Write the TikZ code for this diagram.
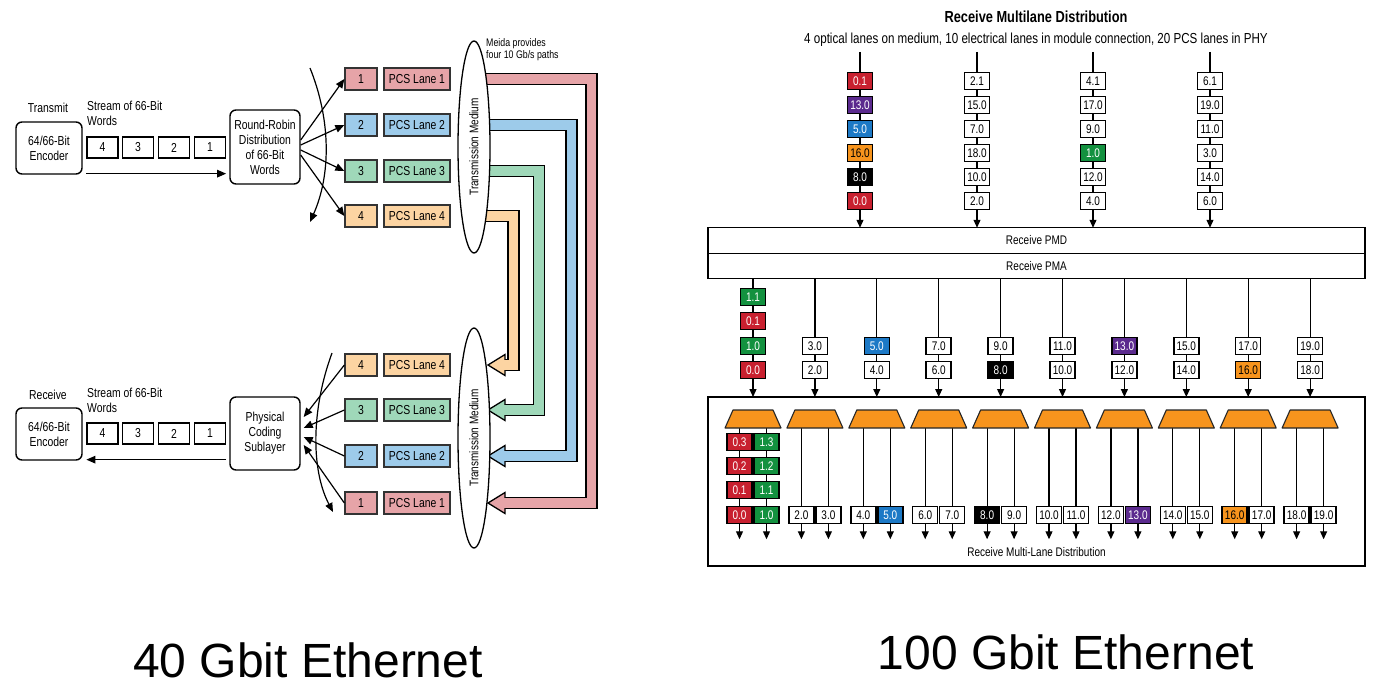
\documentclass[tikz,border=0pt]{standalone}
\usepackage{fontspec}
\setmainfont{Liberation Sans}[FakeStretch=0.8]
\newfontfamily\titlefont{Liberation Sans}
\usetikzlibrary{
	arrows.meta,
	positioning,
	calc,
	shapes.geometric
}
\pgfdeclarelayer{back}
\pgfsetlayers{back,main}

\definecolor{lanepink}{HTML}{E6A4A8}
\definecolor{laneblue}{HTML}{9DCBEA}
\definecolor{lanegreen}{HTML}{9FD8B9}
\definecolor{laneorange}{HTML}{FCD4A2}
\definecolor{pcsred}{HTML}{C8202F}
\definecolor{pcsgreen}{HTML}{13913F}
\definecolor{pcsblue}{HTML}{1C79C6}
\definecolor{pcspurple}{HTML}{5B2A8E}
\definecolor{pcsorange}{HTML}{F7941D}

\begin{document}
\begin{tikzpicture}[x=1pt, y=-1pt,
  kast/.style={rectangle, draw, rounded corners=6pt, line width=1.4pt,
    align=center, inner sep=2pt, font=\fontsize{13}{15}\selectfont},
  woord/.style={rectangle, draw, line width=1.3pt, minimum width=31pt,
    minimum height=21pt, inner sep=0pt, font=\fontsize{13}{14}\selectfont},
  laan/.style={rectangle, draw=black!80, line width=1.3pt, minimum height=22pt,
    inner sep=0pt, font=\fontsize{13}{14}\selectfont},
  medel/.style={ellipse, draw, fill=white, rotate=90, line width=1.3pt,
    minimum width=212pt, minimum height=32pt, inner sep=0pt,
    font=\fontsize{12.5}{14}\selectfont},
  tekst/.style={inner sep=0pt, align=left, font=\fontsize{13}{15}\selectfont},
  pijl/.style={-{Triangle[length=9pt,width=7.5pt]}, line width=1.2pt},
  spijl/.style={-{Triangle[length=8pt,width=7pt]}, line width=1.2pt},
  lbl/.style={rectangle, draw, line width=1.5pt, fill=white, minimum width=25pt,
    minimum height=17pt, inner sep=1pt, font=\fontsize{12.5}{13}\selectfont},
  laag/.style={rectangle, draw, line width=1.3pt, minimum width=657pt,
    outer sep=0pt, font=\fontsize{12.5}{13}\selectfont},
  muxer/.style={fill=pcsorange, draw=black!85, line width=1.1pt, line join=round},
  kop/.style={font=\titlefont\fontsize{48}{50}\selectfont},
  wt/.style={},
  rd/.style={fill=pcsred, text=white},
  gn/.style={fill=pcsgreen, text=white},
  bl/.style={fill=pcsblue, text=white},
  pu/.style={fill=pcspurple, text=white},
  bk/.style={fill=black, text=white},
  or/.style={fill=pcsorange, text=black}
]
\useasboundingbox (0,0) rectangle (1375,687);

% ---- 40 Gbit: transmit side
\node[tekst] (tx) at (48,108) {Transmit};
\node[kast, minimum width=66pt, minimum height=52pt] (enc1) at (49,148) {64/66-Bit\\Encoder};
\node[tekst, anchor=north west] (str1) at (87,101) {Stream of 66-Bit\\Words};
\foreach \x/\w in {102.5/4,138/3,174/2,210/1}
  \node[woord] (wa\w) at (\x,147.5) {\w};
\node[kast, minimum width=70pt, minimum height=74pt] (rr) at (265,147) {Round-Robin\\Distribution\\of 66-Bit\\Words};
\draw[pijl] ($(wa4.south west)+(0,15)$) -- ($(wa1.south east)+(0,15)$);

\coordinate (boga) at (310,68);
\coordinate (bogb) at (310,222);
\draw[pijl] (boga) .. controls (331,120) and (331,175) .. (bogb);

\foreach \i/\y/\c in {1/79/lanepink, 2/125/laneblue, 3/171/lanegreen, 4/216/laneorange}
{
  \node[laan, fill=\c, minimum width=32pt] (tn\i) at (361,\y) {\i};
  \node[laan, fill=\c, minimum width=66pt] (tl\i) at (417,\y) {PCS Lane \i};
  \draw[pijl] ($(rr.east)+(0,{5*\i-12})$) -- (tn\i.west);
}
\node[medel] (med1) at (474,147) {Transmission Medium};
\node[tekst, font=\fontsize{11}{12.5}\selectfont, anchor=north west] (meida) at (486,38) {Meida provides\\four 10 Gb/s paths};

% ---- 40 Gbit: receive side
\node[tekst] (rx) at (48,395) {Receive};
\node[kast, minimum width=66pt, minimum height=52pt] (enc2) at (49,434) {64/66-Bit\\Encoder};
\node[tekst, anchor=north west] (str2) at (87,388) {Stream of 66-Bit\\Words};
\foreach \x/\w in {102.5/4,138/3,174/2,210/1}
  \node[woord] (wb\w) at (\x,433.5) {\w};
\node[kast, minimum width=70pt, minimum height=73pt] (pcs) at (265,433.5) {Physical\\Coding\\Sublayer};
\draw[pijl] ($(wb1.south east)+(0,15)$) -- ($(wb4.south west)+(0,15)$);

\coordinate (bogc) at (332,353);
\coordinate (bogd) at (333,512);
\draw[pijl] (bogc) .. controls (311,410) and (311,470) .. (bogd);

\foreach \i/\y/\c/\dy in {4/365/laneorange/-16.5, 3/410/lanegreen/-5.5, 2/456/laneblue/3.5, 1/503/lanepink/11.5}
{
  \node[laan, fill=\c, minimum width=32pt] (bn\i) at (361,\y) {\i};
  \node[laan, fill=\c, minimum width=66pt] (bl\i) at (417,\y) {PCS Lane \i};
  \draw[pijl] (bn\i.west) -- ($(pcs.east)+(3,\dy)$);
}
\node[medel, minimum width=220pt] (med2) at (474,438) {Transmission Medium};

% four 10 Gb/s paths
\foreach \i/\dx/\c in {1/117.5/lanepink, 2/97.5/laneblue, 3/65/lanegreen, 4/39.5/laneorange}
{
  \coordinate (ps\i) at (med1.center |- tl\i.center);
  \coordinate (pk\i) at ($(med2.center |- bl\i.center)+(\dx,0)$);
  \coordinate (pe\i) at ($(med2.center |- bl\i.center)+(31,0)$);
  \coordinate (pt\i) at ($(med2.center |- bl\i.center)+(14,0)$);
  \begin{pgfonlayer}{back}
    \draw[line width=12.5pt, line join=miter] (ps\i) -| (pk\i) -- (pe\i);
    \filldraw[fill=\c, line width=1.3pt, line join=miter] (pt\i) -- ++(17,-10.5) -- ++(0,21) -- cycle;
    \draw[\c, line width=9.8pt, line join=miter] (ps\i) -| (pk\i) -- ($(pe\i)+(-2,0)$);
  \end{pgfonlayer}
}

\node[kop] (t40) at (308,660) {40 Gbit Ethernet};

% ---- 100 Gbit
\node[font=\fontsize{16}{18}\selectfont\bfseries] (mtitel) at (1036,17) {Receive Multilane Distribution};
\node[font=\fontsize{14.5}{16}\selectfont] (msub) at (1036,40) {4 optical lanes on medium, 10 electrical lanes in module connection, 20 PCS lanes in PHY};

\node[laag, minimum height=25.5pt] (pmd) at (1036.5,240.5) {Receive PMD};
\node[laag, minimum height=25.5pt, below=0pt of pmd] (pma) {Receive PMA};
\node[laag, minimum height=169pt] (mld) at (1036.5,481.5) {};
\node[font=\fontsize{12.5}{13}\selectfont, above=6pt of mld.south] (mldt) {Receive Multi-Lane Distribution};

\foreach \cx/\lst [count=\k] in {
  860/{0.1/rd,13.0/pu,5.0/bl,16.0/or,8.0/bk,0.0/rd},
  977/{2.1/wt,15.0/wt,7.0/wt,18.0/wt,10.0/wt,2.0/wt},
  1093/{4.1/wt,17.0/wt,9.0/wt,1.0/gn,12.0/wt,4.0/wt},
  1210/{6.1/wt,19.0/wt,11.0/wt,3.0/wt,14.0/wt,6.0/wt}}
{
  \coordinate (oi\k) at (\cx,52);
  \begin{pgfonlayer}{back}
    \draw[spijl] (oi\k) -- (oi\k |- pmd.north);
  \end{pgfonlayer}
  \foreach \t/\s [count=\r] in \lst
    \node[lbl,\s] (o\k-\r) at (\cx,{57+24*\r}) {\t};
}

% electrical lanes
\foreach \up/\us/\lo/\ls [count=\j] in {1.0/gn/0.0/rd, 3.0/wt/2.0/wt, 5.0/bl/4.0/wt,
  7.0/wt/6.0/wt, 9.0/wt/8.0/bk, 11.0/wt/10.0/wt, 13.0/pu/12.0/wt, 15.0/wt/14.0/wt,
  17.0/wt/16.0/or, 19.0/wt/18.0/wt}
{
  \pgfmathsetmacro\cx{753+61.9*(\j-1)}
  \coordinate (ei\j) at (\cx,0 |- pma.south);
  \begin{pgfonlayer}{back}
    \draw[spijl] (ei\j) -- (ei\j |- mld.north);
  \end{pgfonlayer}
  \node[lbl,\us] (m\j-a) at (\cx,346) {\up};
  \node[lbl,\ls] (m\j-b) at (\cx,370) {\lo};
}
\node[lbl,gn] (m1-c) at (753,297) {1.1};
\node[lbl,rd] (m1-d) at (753,321) {0.1};

% PCS lanes
\foreach \pl/\pls/\pr/\prs [count=\j] in {0.0/rd/1.0/gn, 2.0/wt/3.0/wt, 4.0/wt/5.0/bl,
  6.0/wt/7.0/wt, 8.0/bk/9.0/wt, 10.0/wt/11.0/wt, 12.0/wt/13.0/pu, 14.0/wt/15.0/wt,
  16.0/or/17.0/wt, 18.0/wt/19.0/wt}
{
  \pgfmathsetmacro\cx{753+61.9*(\j-1)}
  \coordinate (mx\j) at (\cx,410);
  \coordinate (mxb\j) at (\cx,428);
  \filldraw[muxer] ($(mx\j)+(-20,0)$) -- ++(40,0) -- ++(8,18) -- ++(-56,0) -- cycle;
  \node[lbl,\pls] (u\j-l) at ({\cx-13.5},515) {\pl};
  \node[lbl,\prs] (u\j-r) at ({\cx+13.5},515) {\pr};
  \begin{pgfonlayer}{back}
    \draw[spijl] (mxb\j -| u\j-l) -- ($(u\j-l.south)+(0,15)$);
    \draw[spijl] (mxb\j -| u\j-r) -- ($(u\j-r.south)+(0,15)$);
  \end{pgfonlayer}
}
\foreach \t/\y in {3/442,2/466,1/490}
{
  \node[lbl,rd] (v\t-l) at (739.5,\y) {0.\t};
  \node[lbl,gn] (v\t-r) at (766.5,\y) {1.\t};
}

\node[kop] (t100) at (1066,652) {100 Gbit Ethernet};
\end{tikzpicture}
\end{document}
